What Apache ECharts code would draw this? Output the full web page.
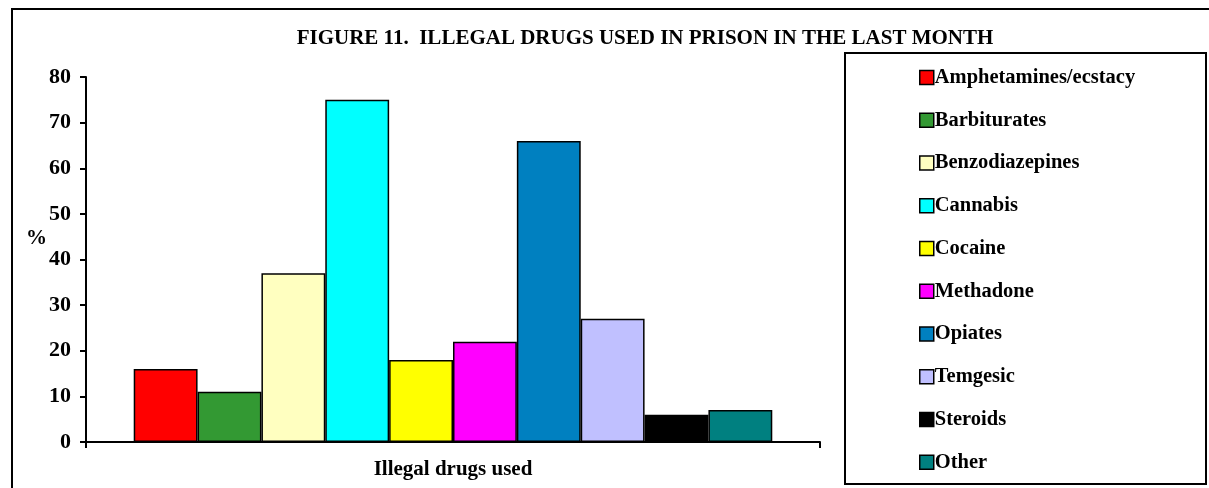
<!DOCTYPE html>
<html>
<head>
<meta charset="utf-8">
<script src="https://cdn.jsdelivr.net/npm/echarts@6/dist/echarts.min.js"></script>
<style>
html,body{margin:0;padding:0;background:#fff;}
#c{width:1209px;height:488px;}
</style>
</head>
<body>
<div id="c"></div>
<script>
var titleText = 'FIGURE 11.  ILLEGAL DRUGS USED IN PRISON IN THE LAST MONTH';
var categories = ['Illegal drugs used'];
var seriesNames = ['Amphetamines/ecstacy','Barbiturates','Benzodiazepines','Cannabis','Cocaine','Methadone','Opiates','Temgesic','Steroids','Other'];
var seriesValues = [16, 11, 37, 75, 18, 22, 66, 27, 6, 7];
var seriesColors = ['#ff0000','#339933','#ffffc0','#00ffff','#ffff00','#ff00ff','#0080c0','#c0c0ff','#000000','#008080'];
var yTicks = [0,10,20,30,40,50,60,70,80];

var FONT = '"Liberation Serif","Times New Roman",serif';

var chart = echarts.init(document.getElementById('c'), null, {renderer:'canvas'});
var series = seriesNames.map(function(n,i){
  return {
    name: n,
    type: 'bar',
    data: [seriesValues[i]],
    barGap: '0%',
    barCategoryGap: '13%',
    itemStyle: {color: seriesColors[i], borderColor: '#000', borderWidth: 1.5},
    emphasis: {disabled: true},
    animation: false
  };
});

chart.setOption({
  animation: false,
  backgroundColor: '#fff',
  title: {
    text: titleText,
    left: 640, textAlign: 'center',
    top: 23,
    textStyle: {fontFamily: FONT, fontWeight: 'bold', fontSize: 21, color: '#000'}
  },
  graphic: [
    {type:'rect', shape:{x:12, y:9, width:1210, height:500}, style:{fill:'none', stroke:'#000', lineWidth:2}, silent:true, z:-1},
    {type:'rect', shape:{x:845, y:53, width:361, height:431}, style:{fill:'#fff', stroke:'#000', lineWidth:2}, silent:true, z:0},
    {type:'text', left:26, top:228, style:{text:'%', font:'bold 21px ' + FONT, fill:'#000'}, silent:true}
  ],
  legend: {
    orient: 'vertical',
    left: 914,
    top: 62,
    height: 420,
    itemWidth: 14,
    itemHeight: 14,
    itemGap: 21.75,
    icon: 'rect',
    selectedMode: false,
    itemStyle: {borderColor: '#000', borderWidth: 1.5},
    textStyle: {fontFamily: FONT, fontWeight: 'bold', fontSize: 20.5, color: '#000', padding:[0,0,0,-4]},
    z: 5,
    data: seriesNames
  },
  grid: {left: 86, right: 389, top: 77, bottom: 46, outerBoundsMode: 'none', containLabel: false},
  xAxis: {
    type: 'category',
    data: categories,
    name: 'Illegal drugs used',
    nameLocation: 'middle',
    nameGap: 17,
    nameTextStyle: {fontFamily: FONT, fontWeight: 'bold', fontSize: 21, color: '#000'},
    axisLine: {show: true, lineStyle: {color: '#000', width: 2}},
    axisTick: {show: true, length: 6, lineStyle: {color: '#000', width: 2}},
    axisLabel: {show: false}
  },
  yAxis: {
    type: 'value',
    min: 0, max: 80, interval: 10,
    axisLine: {show: true, lineStyle: {color: '#000', width: 2}},
    axisTick: {show: true, length: 6, lineStyle: {color: '#000', width: 2}},
    splitLine: {show: false},
    axisLabel: {
      fontFamily: FONT, fontWeight: 'bold', fontSize: 22, color: '#000', margin: 15,
      formatter: function(v){ return yTicks.indexOf(v) >= 0 ? String(v) : ''; }
    }
  },
  series: series
});
</script>
</body>
</html>
